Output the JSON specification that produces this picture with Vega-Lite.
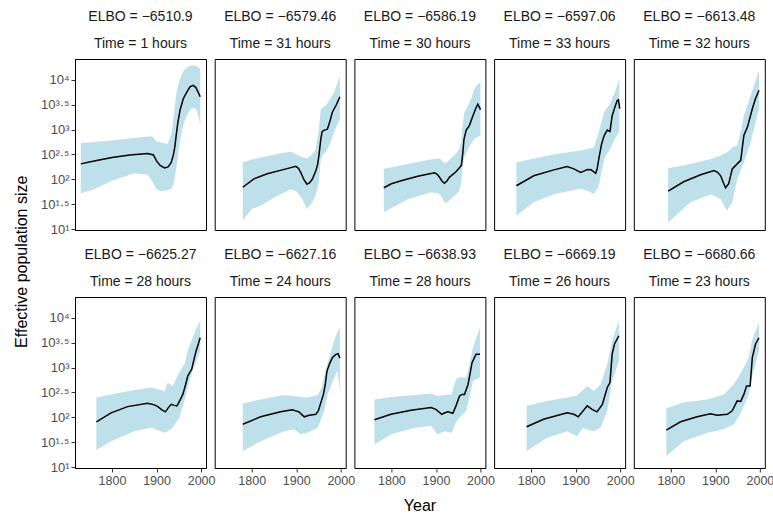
{
  "$schema": "https://vega.github.io/schema/vega-lite/v6.json",
  "padding": {"left": 14, "top": 9, "right": 5, "bottom": 5},
  "bounds": "flush",
  "title": {"text": "Effective population size", "orient": "left", "anchor": "middle", "fontSize": 16, "font": "Liberation Sans", "fontWeight": "normal", "color": "black", "offset": 10},
  "data": {"values": [
    {"panel": "ELBO = −6510.9|Time = 1 hours", "kind": "median", "year": 1730, "log10Ne": 2.31},
    {"panel": "ELBO = −6510.9|Time = 1 hours", "kind": "median", "year": 1760, "log10Ne": 2.37},
    {"panel": "ELBO = −6510.9|Time = 1 hours", "kind": "median", "year": 1800, "log10Ne": 2.44},
    {"panel": "ELBO = −6510.9|Time = 1 hours", "kind": "median", "year": 1840, "log10Ne": 2.49},
    {"panel": "ELBO = −6510.9|Time = 1 hours", "kind": "median", "year": 1880, "log10Ne": 2.52},
    {"panel": "ELBO = −6510.9|Time = 1 hours", "kind": "median", "year": 1893, "log10Ne": 2.49},
    {"panel": "ELBO = −6510.9|Time = 1 hours", "kind": "median", "year": 1900, "log10Ne": 2.37},
    {"panel": "ELBO = −6510.9|Time = 1 hours", "kind": "median", "year": 1908, "log10Ne": 2.28},
    {"panel": "ELBO = −6510.9|Time = 1 hours", "kind": "median", "year": 1918, "log10Ne": 2.23},
    {"panel": "ELBO = −6510.9|Time = 1 hours", "kind": "median", "year": 1926, "log10Ne": 2.25},
    {"panel": "ELBO = −6510.9|Time = 1 hours", "kind": "median", "year": 1933, "log10Ne": 2.34},
    {"panel": "ELBO = −6510.9|Time = 1 hours", "kind": "median", "year": 1938, "log10Ne": 2.5},
    {"panel": "ELBO = −6510.9|Time = 1 hours", "kind": "median", "year": 1941, "log10Ne": 2.65},
    {"panel": "ELBO = −6510.9|Time = 1 hours", "kind": "median", "year": 1945, "log10Ne": 2.95},
    {"panel": "ELBO = −6510.9|Time = 1 hours", "kind": "median", "year": 1948, "log10Ne": 3.15},
    {"panel": "ELBO = −6510.9|Time = 1 hours", "kind": "median", "year": 1953, "log10Ne": 3.4},
    {"panel": "ELBO = −6510.9|Time = 1 hours", "kind": "median", "year": 1960, "log10Ne": 3.62},
    {"panel": "ELBO = −6510.9|Time = 1 hours", "kind": "median", "year": 1967, "log10Ne": 3.74},
    {"panel": "ELBO = −6510.9|Time = 1 hours", "kind": "median", "year": 1975, "log10Ne": 3.86},
    {"panel": "ELBO = −6510.9|Time = 1 hours", "kind": "median", "year": 1982, "log10Ne": 3.89},
    {"panel": "ELBO = −6510.9|Time = 1 hours", "kind": "median", "year": 1988, "log10Ne": 3.85},
    {"panel": "ELBO = −6510.9|Time = 1 hours", "kind": "median", "year": 1993, "log10Ne": 3.76},
    {"panel": "ELBO = −6510.9|Time = 1 hours", "kind": "median", "year": 1998, "log10Ne": 3.66},
    {"panel": "ELBO = −6510.9|Time = 1 hours", "kind": "band", "year": 1730, "lower": 1.72, "upper": 2.73},
    {"panel": "ELBO = −6510.9|Time = 1 hours", "kind": "band", "year": 1760, "lower": 1.8, "upper": 2.75},
    {"panel": "ELBO = −6510.9|Time = 1 hours", "kind": "band", "year": 1800, "lower": 1.97, "upper": 2.78},
    {"panel": "ELBO = −6510.9|Time = 1 hours", "kind": "band", "year": 1850, "lower": 2.12, "upper": 2.83},
    {"panel": "ELBO = −6510.9|Time = 1 hours", "kind": "band", "year": 1880, "lower": 2.09, "upper": 2.86},
    {"panel": "ELBO = −6510.9|Time = 1 hours", "kind": "band", "year": 1891, "lower": 1.95, "upper": 2.86},
    {"panel": "ELBO = −6510.9|Time = 1 hours", "kind": "band", "year": 1900, "lower": 1.8, "upper": 2.76},
    {"panel": "ELBO = −6510.9|Time = 1 hours", "kind": "band", "year": 1910, "lower": 1.76, "upper": 2.74},
    {"panel": "ELBO = −6510.9|Time = 1 hours", "kind": "band", "year": 1925, "lower": 1.78, "upper": 2.71},
    {"panel": "ELBO = −6510.9|Time = 1 hours", "kind": "band", "year": 1933, "lower": 1.81, "upper": 2.9},
    {"panel": "ELBO = −6510.9|Time = 1 hours", "kind": "band", "year": 1938, "lower": 1.9, "upper": 3.25},
    {"panel": "ELBO = −6510.9|Time = 1 hours", "kind": "band", "year": 1944, "lower": 2.2, "upper": 3.7},
    {"panel": "ELBO = −6510.9|Time = 1 hours", "kind": "band", "year": 1950, "lower": 2.6, "upper": 3.95},
    {"panel": "ELBO = −6510.9|Time = 1 hours", "kind": "band", "year": 1956, "lower": 2.95, "upper": 4.1},
    {"panel": "ELBO = −6510.9|Time = 1 hours", "kind": "band", "year": 1962, "lower": 3.15, "upper": 4.2},
    {"panel": "ELBO = −6510.9|Time = 1 hours", "kind": "band", "year": 1970, "lower": 3.32, "upper": 4.26},
    {"panel": "ELBO = −6510.9|Time = 1 hours", "kind": "band", "year": 1978, "lower": 3.42, "upper": 4.29},
    {"panel": "ELBO = −6510.9|Time = 1 hours", "kind": "band", "year": 1985, "lower": 3.43, "upper": 4.29},
    {"panel": "ELBO = −6510.9|Time = 1 hours", "kind": "band", "year": 1990, "lower": 3.4, "upper": 4.27},
    {"panel": "ELBO = −6510.9|Time = 1 hours", "kind": "band", "year": 1995, "lower": 3.25, "upper": 4.25},
    {"panel": "ELBO = −6510.9|Time = 1 hours", "kind": "band", "year": 1998, "lower": 3.08, "upper": 4.21},

    {"panel": "ELBO = −6579.46|Time = 31 hours", "kind": "median", "year": 1780, "log10Ne": 1.84},
    {"panel": "ELBO = −6579.46|Time = 31 hours", "kind": "median", "year": 1805, "log10Ne": 2.01},
    {"panel": "ELBO = −6579.46|Time = 31 hours", "kind": "median", "year": 1835, "log10Ne": 2.11},
    {"panel": "ELBO = −6579.46|Time = 31 hours", "kind": "median", "year": 1873, "log10Ne": 2.2},
    {"panel": "ELBO = −6579.46|Time = 31 hours", "kind": "median", "year": 1899, "log10Ne": 2.26},
    {"panel": "ELBO = −6579.46|Time = 31 hours", "kind": "median", "year": 1905, "log10Ne": 2.22},
    {"panel": "ELBO = −6579.46|Time = 31 hours", "kind": "median", "year": 1910, "log10Ne": 2.14},
    {"panel": "ELBO = −6579.46|Time = 31 hours", "kind": "median", "year": 1917, "log10Ne": 2.0},
    {"panel": "ELBO = −6579.46|Time = 31 hours", "kind": "median", "year": 1924, "log10Ne": 1.9},
    {"panel": "ELBO = −6579.46|Time = 31 hours", "kind": "median", "year": 1930, "log10Ne": 1.93},
    {"panel": "ELBO = −6579.46|Time = 31 hours", "kind": "median", "year": 1936, "log10Ne": 2.0},
    {"panel": "ELBO = −6579.46|Time = 31 hours", "kind": "median", "year": 1944, "log10Ne": 2.17},
    {"panel": "ELBO = −6579.46|Time = 31 hours", "kind": "median", "year": 1948, "log10Ne": 2.3},
    {"panel": "ELBO = −6579.46|Time = 31 hours", "kind": "median", "year": 1951, "log10Ne": 2.48},
    {"panel": "ELBO = −6579.46|Time = 31 hours", "kind": "median", "year": 1955, "log10Ne": 2.8},
    {"panel": "ELBO = −6579.46|Time = 31 hours", "kind": "median", "year": 1958, "log10Ne": 2.96},
    {"panel": "ELBO = −6579.46|Time = 31 hours", "kind": "median", "year": 1963, "log10Ne": 2.99},
    {"panel": "ELBO = −6579.46|Time = 31 hours", "kind": "median", "year": 1970, "log10Ne": 3.01},
    {"panel": "ELBO = −6579.46|Time = 31 hours", "kind": "median", "year": 1975, "log10Ne": 3.15},
    {"panel": "ELBO = −6579.46|Time = 31 hours", "kind": "median", "year": 1981, "log10Ne": 3.35},
    {"panel": "ELBO = −6579.46|Time = 31 hours", "kind": "median", "year": 1990, "log10Ne": 3.5},
    {"panel": "ELBO = −6579.46|Time = 31 hours", "kind": "median", "year": 1998, "log10Ne": 3.66},
    {"panel": "ELBO = −6579.46|Time = 31 hours", "kind": "band", "year": 1780, "lower": 1.17, "upper": 2.34},
    {"panel": "ELBO = −6579.46|Time = 31 hours", "kind": "band", "year": 1800, "lower": 1.4, "upper": 2.4},
    {"panel": "ELBO = −6579.46|Time = 31 hours", "kind": "band", "year": 1820, "lower": 1.47, "upper": 2.44},
    {"panel": "ELBO = −6579.46|Time = 31 hours", "kind": "band", "year": 1858, "lower": 1.67, "upper": 2.51},
    {"panel": "ELBO = −6579.46|Time = 31 hours", "kind": "band", "year": 1888, "lower": 1.8, "upper": 2.56},
    {"panel": "ELBO = −6579.46|Time = 31 hours", "kind": "band", "year": 1900, "lower": 1.76, "upper": 2.5},
    {"panel": "ELBO = −6579.46|Time = 31 hours", "kind": "band", "year": 1914, "lower": 1.6, "upper": 2.44},
    {"panel": "ELBO = −6579.46|Time = 31 hours", "kind": "band", "year": 1924, "lower": 1.4, "upper": 2.42},
    {"panel": "ELBO = −6579.46|Time = 31 hours", "kind": "band", "year": 1936, "lower": 1.54, "upper": 2.5},
    {"panel": "ELBO = −6579.46|Time = 31 hours", "kind": "band", "year": 1944, "lower": 1.7, "upper": 2.61},
    {"panel": "ELBO = −6579.46|Time = 31 hours", "kind": "band", "year": 1950, "lower": 1.9, "upper": 2.95},
    {"panel": "ELBO = −6579.46|Time = 31 hours", "kind": "band", "year": 1955, "lower": 2.4, "upper": 3.4},
    {"panel": "ELBO = −6579.46|Time = 31 hours", "kind": "band", "year": 1960, "lower": 2.5, "upper": 3.45},
    {"panel": "ELBO = −6579.46|Time = 31 hours", "kind": "band", "year": 1966, "lower": 2.54, "upper": 3.48},
    {"panel": "ELBO = −6579.46|Time = 31 hours", "kind": "band", "year": 1975, "lower": 2.7, "upper": 3.6},
    {"panel": "ELBO = −6579.46|Time = 31 hours", "kind": "band", "year": 1985, "lower": 2.95, "upper": 3.75},
    {"panel": "ELBO = −6579.46|Time = 31 hours", "kind": "band", "year": 1992, "lower": 3.1, "upper": 3.92},
    {"panel": "ELBO = −6579.46|Time = 31 hours", "kind": "band", "year": 1998, "lower": 3.21, "upper": 4.07},

    {"panel": "ELBO = −6586.19|Time = 30 hours", "kind": "median", "year": 1783, "log10Ne": 1.83},
    {"panel": "ELBO = −6586.19|Time = 30 hours", "kind": "median", "year": 1800, "log10Ne": 1.91},
    {"panel": "ELBO = −6586.19|Time = 30 hours", "kind": "median", "year": 1822, "log10Ne": 1.97},
    {"panel": "ELBO = −6586.19|Time = 30 hours", "kind": "median", "year": 1859, "log10Ne": 2.06},
    {"panel": "ELBO = −6586.19|Time = 30 hours", "kind": "median", "year": 1897, "log10Ne": 2.13},
    {"panel": "ELBO = −6586.19|Time = 30 hours", "kind": "median", "year": 1903, "log10Ne": 2.1},
    {"panel": "ELBO = −6586.19|Time = 30 hours", "kind": "median", "year": 1908, "log10Ne": 2.04},
    {"panel": "ELBO = −6586.19|Time = 30 hours", "kind": "median", "year": 1914, "log10Ne": 1.96},
    {"panel": "ELBO = −6586.19|Time = 30 hours", "kind": "median", "year": 1919, "log10Ne": 1.92},
    {"panel": "ELBO = −6586.19|Time = 30 hours", "kind": "median", "year": 1925, "log10Ne": 1.97},
    {"panel": "ELBO = −6586.19|Time = 30 hours", "kind": "median", "year": 1930, "log10Ne": 2.04},
    {"panel": "ELBO = −6586.19|Time = 30 hours", "kind": "median", "year": 1945, "log10Ne": 2.15},
    {"panel": "ELBO = −6586.19|Time = 30 hours", "kind": "median", "year": 1957, "log10Ne": 2.28},
    {"panel": "ELBO = −6586.19|Time = 30 hours", "kind": "median", "year": 1960, "log10Ne": 2.5},
    {"panel": "ELBO = −6586.19|Time = 30 hours", "kind": "median", "year": 1963, "log10Ne": 2.81},
    {"panel": "ELBO = −6586.19|Time = 30 hours", "kind": "median", "year": 1968, "log10Ne": 2.99},
    {"panel": "ELBO = −6586.19|Time = 30 hours", "kind": "median", "year": 1975, "log10Ne": 3.08},
    {"panel": "ELBO = −6586.19|Time = 30 hours", "kind": "median", "year": 1983, "log10Ne": 3.28},
    {"panel": "ELBO = −6586.19|Time = 30 hours", "kind": "median", "year": 1990, "log10Ne": 3.44},
    {"panel": "ELBO = −6586.19|Time = 30 hours", "kind": "median", "year": 1994, "log10Ne": 3.51},
    {"panel": "ELBO = −6586.19|Time = 30 hours", "kind": "median", "year": 2000, "log10Ne": 3.4},
    {"panel": "ELBO = −6586.19|Time = 30 hours", "kind": "band", "year": 1783, "lower": 1.34, "upper": 2.21},
    {"panel": "ELBO = −6586.19|Time = 30 hours", "kind": "band", "year": 1837, "lower": 1.6, "upper": 2.31},
    {"panel": "ELBO = −6586.19|Time = 30 hours", "kind": "band", "year": 1889, "lower": 1.74, "upper": 2.4},
    {"panel": "ELBO = −6586.19|Time = 30 hours", "kind": "band", "year": 1905, "lower": 1.72, "upper": 2.42},
    {"panel": "ELBO = −6586.19|Time = 30 hours", "kind": "band", "year": 1912, "lower": 1.67, "upper": 2.4},
    {"panel": "ELBO = −6586.19|Time = 30 hours", "kind": "band", "year": 1918, "lower": 1.55, "upper": 2.33},
    {"panel": "ELBO = −6586.19|Time = 30 hours", "kind": "band", "year": 1923, "lower": 1.52, "upper": 2.33},
    {"panel": "ELBO = −6586.19|Time = 30 hours", "kind": "band", "year": 1938, "lower": 1.64, "upper": 2.46},
    {"panel": "ELBO = −6586.19|Time = 30 hours", "kind": "band", "year": 1948, "lower": 1.72, "upper": 2.55},
    {"panel": "ELBO = −6586.19|Time = 30 hours", "kind": "band", "year": 1953, "lower": 1.77, "upper": 2.62},
    {"panel": "ELBO = −6586.19|Time = 30 hours", "kind": "band", "year": 1957, "lower": 1.95, "upper": 2.75},
    {"panel": "ELBO = −6586.19|Time = 30 hours", "kind": "band", "year": 1960, "lower": 2.24, "upper": 3.1},
    {"panel": "ELBO = −6586.19|Time = 30 hours", "kind": "band", "year": 1964, "lower": 2.45, "upper": 3.35},
    {"panel": "ELBO = −6586.19|Time = 30 hours", "kind": "band", "year": 1972, "lower": 2.61, "upper": 3.48},
    {"panel": "ELBO = −6586.19|Time = 30 hours", "kind": "band", "year": 1979, "lower": 2.72, "upper": 3.62},
    {"panel": "ELBO = −6586.19|Time = 30 hours", "kind": "band", "year": 1986, "lower": 2.81, "upper": 3.82},
    {"panel": "ELBO = −6586.19|Time = 30 hours", "kind": "band", "year": 1993, "lower": 2.85, "upper": 3.9},
    {"panel": "ELBO = −6586.19|Time = 30 hours", "kind": "band", "year": 2000, "lower": 2.88, "upper": 3.95},

    {"panel": "ELBO = −6597.06|Time = 33 hours", "kind": "median", "year": 1767, "log10Ne": 1.87},
    {"panel": "ELBO = −6597.06|Time = 33 hours", "kind": "median", "year": 1806, "log10Ne": 2.07},
    {"panel": "ELBO = −6597.06|Time = 33 hours", "kind": "median", "year": 1851, "log10Ne": 2.19},
    {"panel": "ELBO = −6597.06|Time = 33 hours", "kind": "median", "year": 1881, "log10Ne": 2.255},
    {"panel": "ELBO = −6597.06|Time = 33 hours", "kind": "median", "year": 1896, "log10Ne": 2.21},
    {"panel": "ELBO = −6597.06|Time = 33 hours", "kind": "median", "year": 1911, "log10Ne": 2.14},
    {"panel": "ELBO = −6597.06|Time = 33 hours", "kind": "median", "year": 1920, "log10Ne": 2.17},
    {"panel": "ELBO = −6597.06|Time = 33 hours", "kind": "median", "year": 1926, "log10Ne": 2.195},
    {"panel": "ELBO = −6597.06|Time = 33 hours", "kind": "median", "year": 1935, "log10Ne": 2.19},
    {"panel": "ELBO = −6597.06|Time = 33 hours", "kind": "median", "year": 1945, "log10Ne": 2.12},
    {"panel": "ELBO = −6597.06|Time = 33 hours", "kind": "median", "year": 1948, "log10Ne": 2.2},
    {"panel": "ELBO = −6597.06|Time = 33 hours", "kind": "median", "year": 1952, "log10Ne": 2.41},
    {"panel": "ELBO = −6597.06|Time = 33 hours", "kind": "median", "year": 1958, "log10Ne": 2.7},
    {"panel": "ELBO = −6597.06|Time = 33 hours", "kind": "median", "year": 1964, "log10Ne": 2.88},
    {"panel": "ELBO = −6597.06|Time = 33 hours", "kind": "median", "year": 1971, "log10Ne": 2.99},
    {"panel": "ELBO = −6597.06|Time = 33 hours", "kind": "median", "year": 1977, "log10Ne": 2.96},
    {"panel": "ELBO = −6597.06|Time = 33 hours", "kind": "median", "year": 1982, "log10Ne": 3.28},
    {"panel": "ELBO = −6597.06|Time = 33 hours", "kind": "median", "year": 1988, "log10Ne": 3.45},
    {"panel": "ELBO = −6597.06|Time = 33 hours", "kind": "median", "year": 1993, "log10Ne": 3.58},
    {"panel": "ELBO = −6597.06|Time = 33 hours", "kind": "median", "year": 1996, "log10Ne": 3.6},
    {"panel": "ELBO = −6597.06|Time = 33 hours", "kind": "median", "year": 1999, "log10Ne": 3.42},
    {"panel": "ELBO = −6597.06|Time = 33 hours", "kind": "band", "year": 1767, "lower": 1.27, "upper": 2.34},
    {"panel": "ELBO = −6597.06|Time = 33 hours", "kind": "band", "year": 1806, "lower": 1.54, "upper": 2.42},
    {"panel": "ELBO = −6597.06|Time = 33 hours", "kind": "band", "year": 1851, "lower": 1.7, "upper": 2.5},
    {"panel": "ELBO = −6597.06|Time = 33 hours", "kind": "band", "year": 1888, "lower": 1.77, "upper": 2.55},
    {"panel": "ELBO = −6597.06|Time = 33 hours", "kind": "band", "year": 1911, "lower": 1.81, "upper": 2.58},
    {"panel": "ELBO = −6597.06|Time = 33 hours", "kind": "band", "year": 1930, "lower": 1.76, "upper": 2.62},
    {"panel": "ELBO = −6597.06|Time = 33 hours", "kind": "band", "year": 1941, "lower": 1.7, "upper": 2.64},
    {"panel": "ELBO = −6597.06|Time = 33 hours", "kind": "band", "year": 1952, "lower": 1.87, "upper": 2.95},
    {"panel": "ELBO = −6597.06|Time = 33 hours", "kind": "band", "year": 1964, "lower": 2.41, "upper": 3.35},
    {"panel": "ELBO = −6597.06|Time = 33 hours", "kind": "band", "year": 1979, "lower": 2.64, "upper": 3.55},
    {"panel": "ELBO = −6597.06|Time = 33 hours", "kind": "band", "year": 1990, "lower": 2.85, "upper": 3.8},
    {"panel": "ELBO = −6597.06|Time = 33 hours", "kind": "band", "year": 1998, "lower": 2.95, "upper": 4.02},

    {"panel": "ELBO = −6613.48|Time = 32 hours", "kind": "median", "year": 1794, "log10Ne": 1.76},
    {"panel": "ELBO = −6613.48|Time = 32 hours", "kind": "median", "year": 1829, "log10Ne": 1.95},
    {"panel": "ELBO = −6613.48|Time = 32 hours", "kind": "median", "year": 1867, "log10Ne": 2.09},
    {"panel": "ELBO = −6613.48|Time = 32 hours", "kind": "median", "year": 1897, "log10Ne": 2.175},
    {"panel": "ELBO = −6613.48|Time = 32 hours", "kind": "median", "year": 1905, "log10Ne": 2.14},
    {"panel": "ELBO = −6613.48|Time = 32 hours", "kind": "median", "year": 1912, "log10Ne": 2.07},
    {"panel": "ELBO = −6613.48|Time = 32 hours", "kind": "median", "year": 1918, "log10Ne": 1.93},
    {"panel": "ELBO = −6613.48|Time = 32 hours", "kind": "median", "year": 1923, "log10Ne": 1.83},
    {"panel": "ELBO = −6613.48|Time = 32 hours", "kind": "median", "year": 1930, "log10Ne": 1.91},
    {"panel": "ELBO = −6613.48|Time = 32 hours", "kind": "median", "year": 1938, "log10Ne": 2.21},
    {"panel": "ELBO = −6613.48|Time = 32 hours", "kind": "median", "year": 1949, "log10Ne": 2.31},
    {"panel": "ELBO = −6613.48|Time = 32 hours", "kind": "median", "year": 1957, "log10Ne": 2.38},
    {"panel": "ELBO = −6613.48|Time = 32 hours", "kind": "median", "year": 1960, "log10Ne": 2.6},
    {"panel": "ELBO = −6613.48|Time = 32 hours", "kind": "median", "year": 1964, "log10Ne": 2.88},
    {"panel": "ELBO = −6613.48|Time = 32 hours", "kind": "median", "year": 1972, "log10Ne": 3.05},
    {"panel": "ELBO = −6613.48|Time = 32 hours", "kind": "median", "year": 1983, "log10Ne": 3.42},
    {"panel": "ELBO = −6613.48|Time = 32 hours", "kind": "median", "year": 1990, "log10Ne": 3.62},
    {"panel": "ELBO = −6613.48|Time = 32 hours", "kind": "median", "year": 1998, "log10Ne": 3.79},
    {"panel": "ELBO = −6613.48|Time = 32 hours", "kind": "band", "year": 1794, "lower": 1.13, "upper": 2.22},
    {"panel": "ELBO = −6613.48|Time = 32 hours", "kind": "band", "year": 1844, "lower": 1.54, "upper": 2.31},
    {"panel": "ELBO = −6613.48|Time = 32 hours", "kind": "band", "year": 1890, "lower": 1.7, "upper": 2.41},
    {"panel": "ELBO = −6613.48|Time = 32 hours", "kind": "band", "year": 1912, "lower": 1.6, "upper": 2.48},
    {"panel": "ELBO = −6613.48|Time = 32 hours", "kind": "band", "year": 1926, "lower": 1.37, "upper": 2.54},
    {"panel": "ELBO = −6613.48|Time = 32 hours", "kind": "band", "year": 1938, "lower": 1.54, "upper": 2.64},
    {"panel": "ELBO = −6613.48|Time = 32 hours", "kind": "band", "year": 1949, "lower": 2.0, "upper": 2.68},
    {"panel": "ELBO = −6613.48|Time = 32 hours", "kind": "band", "year": 1958, "lower": 2.2, "upper": 3.0},
    {"panel": "ELBO = −6613.48|Time = 32 hours", "kind": "band", "year": 1964, "lower": 2.34, "upper": 3.28},
    {"panel": "ELBO = −6613.48|Time = 32 hours", "kind": "band", "year": 1979, "lower": 2.74, "upper": 3.68},
    {"panel": "ELBO = −6613.48|Time = 32 hours", "kind": "band", "year": 1998, "lower": 3.42, "upper": 4.19},

    {"panel": "ELBO = −6625.27|Time = 28 hours", "kind": "median", "year": 1765, "log10Ne": 1.91},
    {"panel": "ELBO = −6625.27|Time = 28 hours", "kind": "median", "year": 1798, "log10Ne": 2.09},
    {"panel": "ELBO = −6625.27|Time = 28 hours", "kind": "median", "year": 1835, "log10Ne": 2.215},
    {"panel": "ELBO = −6625.27|Time = 28 hours", "kind": "median", "year": 1880, "log10Ne": 2.28},
    {"panel": "ELBO = −6625.27|Time = 28 hours", "kind": "median", "year": 1895, "log10Ne": 2.25},
    {"panel": "ELBO = −6625.27|Time = 28 hours", "kind": "median", "year": 1903, "log10Ne": 2.215},
    {"panel": "ELBO = −6625.27|Time = 28 hours", "kind": "median", "year": 1912, "log10Ne": 2.15},
    {"panel": "ELBO = −6625.27|Time = 28 hours", "kind": "median", "year": 1920, "log10Ne": 2.11},
    {"panel": "ELBO = −6625.27|Time = 28 hours", "kind": "median", "year": 1927, "log10Ne": 2.2},
    {"panel": "ELBO = −6625.27|Time = 28 hours", "kind": "median", "year": 1933, "log10Ne": 2.26},
    {"panel": "ELBO = −6625.27|Time = 28 hours", "kind": "median", "year": 1940, "log10Ne": 2.24},
    {"panel": "ELBO = −6625.27|Time = 28 hours", "kind": "median", "year": 1946, "log10Ne": 2.23},
    {"panel": "ELBO = −6625.27|Time = 28 hours", "kind": "median", "year": 1953, "log10Ne": 2.35},
    {"panel": "ELBO = −6625.27|Time = 28 hours", "kind": "median", "year": 1959, "log10Ne": 2.46},
    {"panel": "ELBO = −6625.27|Time = 28 hours", "kind": "median", "year": 1965, "log10Ne": 2.65},
    {"panel": "ELBO = −6625.27|Time = 28 hours", "kind": "median", "year": 1970, "log10Ne": 2.83},
    {"panel": "ELBO = −6625.27|Time = 28 hours", "kind": "median", "year": 1979, "log10Ne": 2.97},
    {"panel": "ELBO = −6625.27|Time = 28 hours", "kind": "median", "year": 1985, "log10Ne": 3.2},
    {"panel": "ELBO = −6625.27|Time = 28 hours", "kind": "median", "year": 1989, "log10Ne": 3.34},
    {"panel": "ELBO = −6625.27|Time = 28 hours", "kind": "median", "year": 1998, "log10Ne": 3.6},
    {"panel": "ELBO = −6625.27|Time = 28 hours", "kind": "band", "year": 1765, "lower": 1.34, "upper": 2.4},
    {"panel": "ELBO = −6625.27|Time = 28 hours", "kind": "band", "year": 1798, "lower": 1.52, "upper": 2.46},
    {"panel": "ELBO = −6625.27|Time = 28 hours", "kind": "band", "year": 1850, "lower": 1.72, "upper": 2.55},
    {"panel": "ELBO = −6625.27|Time = 28 hours", "kind": "band", "year": 1888, "lower": 1.79, "upper": 2.6},
    {"panel": "ELBO = −6625.27|Time = 28 hours", "kind": "band", "year": 1910, "lower": 1.72, "upper": 2.55},
    {"panel": "ELBO = −6625.27|Time = 28 hours", "kind": "band", "year": 1918, "lower": 1.69, "upper": 2.52},
    {"panel": "ELBO = −6625.27|Time = 28 hours", "kind": "band", "year": 1925, "lower": 1.72, "upper": 2.7},
    {"panel": "ELBO = −6625.27|Time = 28 hours", "kind": "band", "year": 1936, "lower": 1.79, "upper": 2.63},
    {"panel": "ELBO = −6625.27|Time = 28 hours", "kind": "band", "year": 1951, "lower": 1.99, "upper": 2.9},
    {"panel": "ELBO = −6625.27|Time = 28 hours", "kind": "band", "year": 1963, "lower": 2.35, "upper": 3.07},
    {"panel": "ELBO = −6625.27|Time = 28 hours", "kind": "band", "year": 1970, "lower": 2.6, "upper": 3.35},
    {"panel": "ELBO = −6625.27|Time = 28 hours", "kind": "band", "year": 1981, "lower": 2.93, "upper": 3.6},
    {"panel": "ELBO = −6625.27|Time = 28 hours", "kind": "band", "year": 1990, "lower": 3.15, "upper": 3.8},
    {"panel": "ELBO = −6625.27|Time = 28 hours", "kind": "band", "year": 1998, "lower": 3.34, "upper": 3.94},

    {"panel": "ELBO = −6627.16|Time = 24 hours", "kind": "median", "year": 1780, "log10Ne": 1.86},
    {"panel": "ELBO = −6627.16|Time = 24 hours", "kind": "median", "year": 1820, "log10Ne": 2.01},
    {"panel": "ELBO = −6627.16|Time = 24 hours", "kind": "median", "year": 1865, "log10Ne": 2.11},
    {"panel": "ELBO = −6627.16|Time = 24 hours", "kind": "median", "year": 1891, "log10Ne": 2.15},
    {"panel": "ELBO = −6627.16|Time = 24 hours", "kind": "median", "year": 1906, "log10Ne": 2.11},
    {"panel": "ELBO = −6627.16|Time = 24 hours", "kind": "median", "year": 1918, "log10Ne": 2.01},
    {"panel": "ELBO = −6627.16|Time = 24 hours", "kind": "median", "year": 1929, "log10Ne": 2.04},
    {"panel": "ELBO = −6627.16|Time = 24 hours", "kind": "median", "year": 1944, "log10Ne": 2.06},
    {"panel": "ELBO = −6627.16|Time = 24 hours", "kind": "median", "year": 1950, "log10Ne": 2.14},
    {"panel": "ELBO = −6627.16|Time = 24 hours", "kind": "median", "year": 1954, "log10Ne": 2.26},
    {"panel": "ELBO = −6627.16|Time = 24 hours", "kind": "median", "year": 1961, "log10Ne": 2.46},
    {"panel": "ELBO = −6627.16|Time = 24 hours", "kind": "median", "year": 1965, "log10Ne": 2.65},
    {"panel": "ELBO = −6627.16|Time = 24 hours", "kind": "median", "year": 1969, "log10Ne": 2.93},
    {"panel": "ELBO = −6627.16|Time = 24 hours", "kind": "median", "year": 1975, "log10Ne": 3.08},
    {"panel": "ELBO = −6627.16|Time = 24 hours", "kind": "median", "year": 1981, "log10Ne": 3.2},
    {"panel": "ELBO = −6627.16|Time = 24 hours", "kind": "median", "year": 1988, "log10Ne": 3.26},
    {"panel": "ELBO = −6627.16|Time = 24 hours", "kind": "median", "year": 1994, "log10Ne": 3.28},
    {"panel": "ELBO = −6627.16|Time = 24 hours", "kind": "median", "year": 1998, "log10Ne": 3.19},
    {"panel": "ELBO = −6627.16|Time = 24 hours", "kind": "band", "year": 1780, "lower": 1.32, "upper": 2.28},
    {"panel": "ELBO = −6627.16|Time = 24 hours", "kind": "band", "year": 1820, "lower": 1.52, "upper": 2.36},
    {"panel": "ELBO = −6627.16|Time = 24 hours", "kind": "band", "year": 1873, "lower": 1.72, "upper": 2.45},
    {"panel": "ELBO = −6627.16|Time = 24 hours", "kind": "band", "year": 1895, "lower": 1.76, "upper": 2.43},
    {"panel": "ELBO = −6627.16|Time = 24 hours", "kind": "band", "year": 1910, "lower": 1.66, "upper": 2.41},
    {"panel": "ELBO = −6627.16|Time = 24 hours", "kind": "band", "year": 1925, "lower": 1.69, "upper": 2.4},
    {"panel": "ELBO = −6627.16|Time = 24 hours", "kind": "band", "year": 1948, "lower": 1.79, "upper": 2.45},
    {"panel": "ELBO = −6627.16|Time = 24 hours", "kind": "band", "year": 1957, "lower": 1.99, "upper": 2.6},
    {"panel": "ELBO = −6627.16|Time = 24 hours", "kind": "band", "year": 1963, "lower": 2.13, "upper": 2.85},
    {"panel": "ELBO = −6627.16|Time = 24 hours", "kind": "band", "year": 1970, "lower": 2.45, "upper": 3.07},
    {"panel": "ELBO = −6627.16|Time = 24 hours", "kind": "band", "year": 1985, "lower": 2.8, "upper": 3.54},
    {"panel": "ELBO = −6627.16|Time = 24 hours", "kind": "band", "year": 1992, "lower": 2.93, "upper": 3.7},
    {"panel": "ELBO = −6627.16|Time = 24 hours", "kind": "band", "year": 1996, "lower": 2.7, "upper": 3.78},
    {"panel": "ELBO = −6627.16|Time = 24 hours", "kind": "band", "year": 1998, "lower": 2.53, "upper": 3.81},

    {"panel": "ELBO = −6638.93|Time = 28 hours", "kind": "median", "year": 1762, "log10Ne": 1.95},
    {"panel": "ELBO = −6638.93|Time = 28 hours", "kind": "median", "year": 1799, "log10Ne": 2.06},
    {"panel": "ELBO = −6638.93|Time = 28 hours", "kind": "median", "year": 1844, "log10Ne": 2.14},
    {"panel": "ELBO = −6638.93|Time = 28 hours", "kind": "median", "year": 1889, "log10Ne": 2.195},
    {"panel": "ELBO = −6638.93|Time = 28 hours", "kind": "median", "year": 1900, "log10Ne": 2.16},
    {"panel": "ELBO = −6638.93|Time = 28 hours", "kind": "median", "year": 1913, "log10Ne": 2.06},
    {"panel": "ELBO = −6638.93|Time = 28 hours", "kind": "median", "year": 1920, "log10Ne": 2.09},
    {"panel": "ELBO = −6638.93|Time = 28 hours", "kind": "median", "year": 1927, "log10Ne": 2.11},
    {"panel": "ELBO = −6638.93|Time = 28 hours", "kind": "median", "year": 1938, "log10Ne": 2.08},
    {"panel": "ELBO = −6638.93|Time = 28 hours", "kind": "median", "year": 1945, "log10Ne": 2.23},
    {"panel": "ELBO = −6638.93|Time = 28 hours", "kind": "median", "year": 1953, "log10Ne": 2.43},
    {"panel": "ELBO = −6638.93|Time = 28 hours", "kind": "median", "year": 1958, "log10Ne": 2.46},
    {"panel": "ELBO = −6638.93|Time = 28 hours", "kind": "median", "year": 1964, "log10Ne": 2.46},
    {"panel": "ELBO = −6638.93|Time = 28 hours", "kind": "median", "year": 1972, "log10Ne": 2.66},
    {"panel": "ELBO = −6638.93|Time = 28 hours", "kind": "median", "year": 1977, "log10Ne": 2.9},
    {"panel": "ELBO = −6638.93|Time = 28 hours", "kind": "median", "year": 1981, "log10Ne": 3.1},
    {"panel": "ELBO = −6638.93|Time = 28 hours", "kind": "median", "year": 1990, "log10Ne": 3.27},
    {"panel": "ELBO = −6638.93|Time = 28 hours", "kind": "median", "year": 1999, "log10Ne": 3.27},
    {"panel": "ELBO = −6638.93|Time = 28 hours", "kind": "band", "year": 1762, "lower": 1.46, "upper": 2.36},
    {"panel": "ELBO = −6638.93|Time = 28 hours", "kind": "band", "year": 1800, "lower": 1.66, "upper": 2.41},
    {"panel": "ELBO = −6638.93|Time = 28 hours", "kind": "band", "year": 1853, "lower": 1.79, "upper": 2.45},
    {"panel": "ELBO = −6638.93|Time = 28 hours", "kind": "band", "year": 1889, "lower": 1.83, "upper": 2.48},
    {"panel": "ELBO = −6638.93|Time = 28 hours", "kind": "band", "year": 1903, "lower": 1.66, "upper": 2.43},
    {"panel": "ELBO = −6638.93|Time = 28 hours", "kind": "band", "year": 1920, "lower": 1.72, "upper": 2.45},
    {"panel": "ELBO = −6638.93|Time = 28 hours", "kind": "band", "year": 1935, "lower": 1.69, "upper": 2.46},
    {"panel": "ELBO = −6638.93|Time = 28 hours", "kind": "band", "year": 1945, "lower": 1.9, "upper": 2.77},
    {"panel": "ELBO = −6638.93|Time = 28 hours", "kind": "band", "year": 1953, "lower": 1.99, "upper": 2.8},
    {"panel": "ELBO = −6638.93|Time = 28 hours", "kind": "band", "year": 1968, "lower": 2.13, "upper": 2.8},
    {"panel": "ELBO = −6638.93|Time = 28 hours", "kind": "band", "year": 1975, "lower": 2.4, "upper": 3.05},
    {"panel": "ELBO = −6638.93|Time = 28 hours", "kind": "band", "year": 1983, "lower": 2.73, "upper": 3.4},
    {"panel": "ELBO = −6638.93|Time = 28 hours", "kind": "band", "year": 1999, "lower": 2.8, "upper": 3.81},

    {"panel": "ELBO = −6669.19|Time = 26 hours", "kind": "median", "year": 1790, "log10Ne": 1.81},
    {"panel": "ELBO = −6669.19|Time = 26 hours", "kind": "median", "year": 1828, "log10Ne": 1.96},
    {"panel": "ELBO = −6669.19|Time = 26 hours", "kind": "median", "year": 1881, "log10Ne": 2.09},
    {"panel": "ELBO = −6669.19|Time = 26 hours", "kind": "median", "year": 1896, "log10Ne": 2.06},
    {"panel": "ELBO = −6669.19|Time = 26 hours", "kind": "median", "year": 1906, "log10Ne": 2.01},
    {"panel": "ELBO = −6669.19|Time = 26 hours", "kind": "median", "year": 1917, "log10Ne": 2.13},
    {"panel": "ELBO = −6669.19|Time = 26 hours", "kind": "median", "year": 1926, "log10Ne": 2.23},
    {"panel": "ELBO = −6669.19|Time = 26 hours", "kind": "median", "year": 1937, "log10Ne": 2.16},
    {"panel": "ELBO = −6669.19|Time = 26 hours", "kind": "median", "year": 1948, "log10Ne": 2.11},
    {"panel": "ELBO = −6669.19|Time = 26 hours", "kind": "median", "year": 1960, "log10Ne": 2.26},
    {"panel": "ELBO = −6669.19|Time = 26 hours", "kind": "median", "year": 1971, "log10Ne": 2.6},
    {"panel": "ELBO = −6669.19|Time = 26 hours", "kind": "median", "year": 1977, "log10Ne": 2.7},
    {"panel": "ELBO = −6669.19|Time = 26 hours", "kind": "median", "year": 1982, "log10Ne": 3.27},
    {"panel": "ELBO = −6669.19|Time = 26 hours", "kind": "median", "year": 1987, "log10Ne": 3.47},
    {"panel": "ELBO = −6669.19|Time = 26 hours", "kind": "median", "year": 1997, "log10Ne": 3.64},
    {"panel": "ELBO = −6669.19|Time = 26 hours", "kind": "band", "year": 1790, "lower": 1.32, "upper": 2.23},
    {"panel": "ELBO = −6669.19|Time = 26 hours", "kind": "band", "year": 1836, "lower": 1.59, "upper": 2.33},
    {"panel": "ELBO = −6669.19|Time = 26 hours", "kind": "band", "year": 1881, "lower": 1.72, "upper": 2.4},
    {"panel": "ELBO = −6669.19|Time = 26 hours", "kind": "band", "year": 1903, "lower": 1.62, "upper": 2.44},
    {"panel": "ELBO = −6669.19|Time = 26 hours", "kind": "band", "year": 1917, "lower": 1.79, "upper": 2.55},
    {"panel": "ELBO = −6669.19|Time = 26 hours", "kind": "band", "year": 1926, "lower": 1.75, "upper": 2.63},
    {"panel": "ELBO = −6669.19|Time = 26 hours", "kind": "band", "year": 1941, "lower": 1.72, "upper": 2.53},
    {"panel": "ELBO = −6669.19|Time = 26 hours", "kind": "band", "year": 1956, "lower": 1.79, "upper": 2.66},
    {"panel": "ELBO = −6669.19|Time = 26 hours", "kind": "band", "year": 1971, "lower": 2.13, "upper": 3.07},
    {"panel": "ELBO = −6669.19|Time = 26 hours", "kind": "band", "year": 1982, "lower": 2.73, "upper": 3.54},
    {"panel": "ELBO = −6669.19|Time = 26 hours", "kind": "band", "year": 1997, "lower": 3.13, "upper": 3.95},

    {"panel": "ELBO = −6680.66|Time = 23 hours", "kind": "median", "year": 1790, "log10Ne": 1.74},
    {"panel": "ELBO = −6680.66|Time = 23 hours", "kind": "median", "year": 1822, "log10Ne": 1.91},
    {"panel": "ELBO = −6680.66|Time = 23 hours", "kind": "median", "year": 1859, "log10Ne": 2.01},
    {"panel": "ELBO = −6680.66|Time = 23 hours", "kind": "median", "year": 1889, "log10Ne": 2.07},
    {"panel": "ELBO = −6680.66|Time = 23 hours", "kind": "median", "year": 1904, "log10Ne": 2.04},
    {"panel": "ELBO = −6680.66|Time = 23 hours", "kind": "median", "year": 1927, "log10Ne": 2.06},
    {"panel": "ELBO = −6680.66|Time = 23 hours", "kind": "median", "year": 1938, "log10Ne": 2.13},
    {"panel": "ELBO = −6680.66|Time = 23 hours", "kind": "median", "year": 1949, "log10Ne": 2.33},
    {"panel": "ELBO = −6680.66|Time = 23 hours", "kind": "median", "year": 1957, "log10Ne": 2.32},
    {"panel": "ELBO = −6680.66|Time = 23 hours", "kind": "median", "year": 1964, "log10Ne": 2.46},
    {"panel": "ELBO = −6680.66|Time = 23 hours", "kind": "median", "year": 1970, "log10Ne": 2.63},
    {"panel": "ELBO = −6680.66|Time = 23 hours", "kind": "median", "year": 1978, "log10Ne": 2.63},
    {"panel": "ELBO = −6680.66|Time = 23 hours", "kind": "median", "year": 1983, "log10Ne": 3.2},
    {"panel": "ELBO = −6680.66|Time = 23 hours", "kind": "median", "year": 1990, "log10Ne": 3.47},
    {"panel": "ELBO = −6680.66|Time = 23 hours", "kind": "median", "year": 1998, "log10Ne": 3.6},
    {"panel": "ELBO = −6680.66|Time = 23 hours", "kind": "band", "year": 1790, "lower": 1.22, "upper": 2.18},
    {"panel": "ELBO = −6680.66|Time = 23 hours", "kind": "band", "year": 1829, "lower": 1.52, "upper": 2.3},
    {"panel": "ELBO = −6680.66|Time = 23 hours", "kind": "band", "year": 1882, "lower": 1.69, "upper": 2.36},
    {"panel": "ELBO = −6680.66|Time = 23 hours", "kind": "band", "year": 1919, "lower": 1.76, "upper": 2.46},
    {"panel": "ELBO = −6680.66|Time = 23 hours", "kind": "band", "year": 1941, "lower": 1.86, "upper": 2.66},
    {"panel": "ELBO = −6680.66|Time = 23 hours", "kind": "band", "year": 1956, "lower": 2.06, "upper": 2.87},
    {"panel": "ELBO = −6680.66|Time = 23 hours", "kind": "band", "year": 1975, "lower": 2.46, "upper": 3.2},
    {"panel": "ELBO = −6680.66|Time = 23 hours", "kind": "band", "year": 1982, "lower": 2.8, "upper": 3.54},
    {"panel": "ELBO = −6680.66|Time = 23 hours", "kind": "band", "year": 1998, "lower": 3.34, "upper": 3.91}
  ]},
  "facet": {
    "field": "panel",
    "type": "nominal",
    "title": "Year",
    "sort": [
      "ELBO = −6510.9|Time = 1 hours",
      "ELBO = −6579.46|Time = 31 hours",
      "ELBO = −6586.19|Time = 30 hours",
      "ELBO = −6597.06|Time = 33 hours",
      "ELBO = −6613.48|Time = 32 hours",
      "ELBO = −6625.27|Time = 28 hours",
      "ELBO = −6627.16|Time = 24 hours",
      "ELBO = −6638.93|Time = 28 hours",
      "ELBO = −6669.19|Time = 26 hours",
      "ELBO = −6680.66|Time = 23 hours"
    ],
    "header": {
      "titleOrient": "bottom",
      "labelOrient": "top",
      "labelExpr": "split(datum.value, '|')",
      "labelFont": "Liberation Sans",
      "labelFontSize": 14,
      "labelColor": "#1A1A1A",
      "labelLineHeight": 27,
      "labelPadding": 8,
      "titleFont": "Liberation Sans",
      "titleFontSize": 16,
      "titleFontWeight": "normal",
      "titleColor": "black",
      "titlePadding": 11
    }
  },
  "columns": 5,
  "spacing": {"column": 8.7, "row": 67},
  "spec": {
    "width": 131,
    "height": 171,
    "encoding": {
      "x": {"field": "year", "type": "quantitative",
        "scale": {"domain": [1717, 2011], "nice": false, "zero": false},
        "axis": {"title": null, "values": [1800, 1900, 2000], "format": "d", "labelFlush": false, "labelOverlap": false, "labelBound": false}}
    },
    "layer": [
      {
        "transform": [{"filter": "datum.kind === 'band'"}],
        "mark": {"type": "area", "color": "#ADD8E6", "opacity": 0.8},
        "encoding": {
          "y": {"field": "lower", "type": "quantitative",
            "scale": {"domain": [0.98, 4.42], "nice": false, "zero": false},
            "axis": {"title": null, "values": [1, 1.5, 2, 2.5, 3, 3.5, 4], "labelOverlap": false, "labelFlush": false, "labelBound": false, "labelFontSize": 13,
              "labelExpr": "datum.value == 1 ? '10¹' : datum.value == 1.5 ? '10¹·⁵' : datum.value == 2 ? '10²' : datum.value == 2.5 ? '10²·⁵' : datum.value == 3 ? '10³' : datum.value == 3.5 ? '10³·⁵' : '10⁴'"}},
          "y2": {"field": "upper"}
        }
      },
      {
        "transform": [{"filter": "datum.kind === 'median'"}],
        "mark": {"type": "line", "color": "black", "strokeWidth": 1.5},
        "encoding": {
          "y": {"field": "log10Ne", "type": "quantitative",
            "scale": {"domain": [0.98, 4.42], "nice": false, "zero": false},
            "axis": {"title": null, "values": [1, 1.5, 2, 2.5, 3, 3.5, 4], "labelOverlap": false, "labelFlush": false, "labelBound": false, "labelFontSize": 13,
              "labelExpr": "datum.value == 1 ? '10¹' : datum.value == 1.5 ? '10¹·⁵' : datum.value == 2 ? '10²' : datum.value == 2.5 ? '10²·⁵' : datum.value == 3 ? '10³' : datum.value == 3.5 ? '10³·⁵' : '10⁴'"}}
        }
      }
    ]
  },
  "config": {
    "view": {"stroke": "black", "strokeWidth": 1},
    "axis": {"grid": false, "domainColor": "black", "domainWidth": 1, "tickColor": "#333333", "tickSize": 4, "labelColor": "#4D4D4D", "labelFont": "Liberation Sans", "labelFontSize": 12.5, "labelPadding": 2}
  }
}
